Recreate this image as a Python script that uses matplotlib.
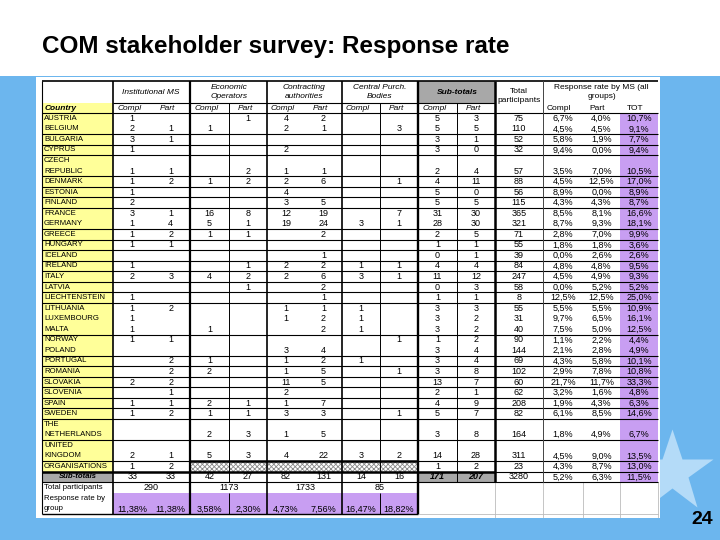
import matplotlib.pyplot as plt
from matplotlib.patches import Rectangle

# ---- data ----
N = None
countries = ["AUSTRIA", "BELGIUM", "BULGARIA", "CYPRUS", "CZECH\nREPUBLIC", "DENMARK",
             "ESTONIA", "FINLAND", "FRANCE", "GERMANY", "GREECE", "HUNGARY", "ICELAND",
             "IRELAND", "ITALY", "LATVIA", "LIECHTENSTEIN", "LITHUANIA", "LUXEMBOURG",
             "MALTA", "NORWAY", "POLAND", "PORTUGAL", "ROMANIA", "SLOVAKIA", "SLOVENIA",
             "SPAIN", "SWEDEN", "THE\nNETHERLANDS", "UNITED\nKINGDOM", "ORGANISATIONS"]
inst_compl = [1, 2, 3, 1, 1, 1, 1, 2, 3, 1, 1, 1, N, 1, 2, N, 1, 1, 1, 1, 1, N, N, N, 2, N, 1, 1, N, 2, 1]
inst_part = [N, 1, 1, N, 1, 2, N, N, 1, 4, 2, 1, N, N, 3, N, N, 2, N, N, 1, N, 2, 2, 2, 1, 1, 2, N, 1, 2]
econ_compl = [N, 1, N, N, N, 1, N, N, 16, 5, 1, N, N, N, 4, N, N, N, N, 1, N, N, 1, 2, N, N, 2, 1, 2, 5, N]
econ_part = [1, N, N, N, 2, 2, N, N, 8, 1, 1, N, N, 1, 2, 1, N, N, N, N, N, N, N, N, N, N, 1, 1, 3, 3, N]
contr_compl = [4, 2, N, 2, 1, 2, 4, 3, 12, 19, N, N, N, 2, 2, N, N, 1, 1, N, N, 3, 1, 1, 11, 2, 1, 3, 1, 4, N]
contr_part = [2, 1, N, N, 1, 6, N, 5, 19, 24, 2, N, 1, 2, 6, 2, 1, 1, 2, 2, N, 4, 2, 5, 5, N, 7, 3, 5, 22, N]
cent_compl = [N, N, N, N, N, N, N, N, N, 3, N, N, N, 1, 3, N, N, 1, 1, 1, N, N, 1, N, N, N, N, N, N, 3, N]
cent_part = [N, 3, N, N, N, 1, N, N, 7, 1, N, N, N, 1, 1, N, N, N, N, N, 1, N, N, 1, N, N, N, 1, N, 2, N]
sub_compl = [5, 5, 3, 3, 2, 4, 5, 5, 31, 28, 2, 1, 0, 4, 11, 0, 1, 3, 3, 3, 1, 3, 3, 3, 13, 2, 4, 5, 3, 14, 1]
sub_part = [3, 5, 1, 0, 4, 11, 0, 5, 30, 30, 5, 1, 1, 4, 12, 3, 1, 3, 2, 2, 2, 4, 4, 8, 7, 1, 9, 7, 8, 28, 2]
total = [75, 110, 52, 32, 57, 88, 56, 115, 365, 321, 71, 55, 39, 84, 247, 58, 8, 55, 31, 40, 90, 144,
         69, 102, 60, 62, 208, 82, 164, 311, 23]
rate_compl = [6.7, 4.5, 5.8, 9.4, 3.5, 4.5, 8.9, 4.3, 8.5, 8.7, 2.8, 1.8, 0.0, 4.8, 4.5, 0.0, 12.5, 5.5,
              9.7, 7.5, 1.1, 2.1, 4.3, 2.9, 21.7, 3.2, 1.9, 6.1, 1.8, 4.5, 4.3]
rate_part = [4.0, 4.5, 1.9, 0.0, 7.0, 12.5, 0.0, 4.3, 8.1, 9.3, 7.0, 1.8, 2.6, 4.8, 4.9, 5.2, 12.5, 5.5,
             6.5, 5.0, 2.2, 2.8, 5.8, 7.8, 11.7, 1.6, 4.3, 8.5, 4.9, 9.0, 8.7]
rate_tot = [10.7, 9.1, 7.7, 9.4, 10.5, 17.0, 8.9, 8.7, 16.6, 18.1, 9.9, 3.6, 2.6, 9.5, 9.3, 5.2, 25.0,
            10.9, 16.1, 12.5, 4.4, 4.9, 10.1, 10.8, 33.3, 4.8, 6.3, 14.6, 6.7, 13.5, 13.0]

# Sub-totals / totals
group_subtotals = [33, 33, 42, 27, 82, 131, 14, 16, 171, 207]
grand_total = 3280
grand_rates = [5.2, 6.3, 11.5]
group_participants = [290, 1173, 1733, 85]
group_rates = [11.38, 11.38, 3.58, 2.30, 4.73, 7.56, 16.47, 18.82]

FONT = "Liberation Sans"
BLUE = "#6cb6ee"
YELLOW = "#ffff99"
PURPLE = "#c89ef2"
GREY = "#a8a8a8"


def pct(v, d=1):
    return (f"{v:.{d}f}%").replace(".", ",")


def blank(v):
    return "" if v is None else str(v)


fig = plt.figure(figsize=(7.2, 5.4), dpi=100)
ax = fig.add_axes([0, 0, 1, 1])
ax.set_xlim(0, 720)
ax.set_ylim(540, 0)
ax.axis("off")

# slide background
ax.add_patch(Rectangle((0, 0), 720, 540, facecolor=BLUE, lw=0, zorder=0))
ax.add_patch(Rectangle((0, 0), 720, 76, facecolor="white", lw=0, zorder=0.5))
ax.plot(672, 472, marker="*", ms=62, color="#b4dbf8", mec="none", zorder=0.6)
ax.add_patch(Rectangle((36, 77), 624, 441, facecolor="white", lw=0, zorder=1))

ax.text(42, 46, "COM stakeholder survey: Response rate", fontsize=17.5, fontweight="bold",
        family=FONT, va="center", ha="left", zorder=5)
ax.text(713, 520, "24", fontsize=14, fontweight="bold", family=FONT, va="center", ha="right")

# column layout
edges = [42, 113, 151.5, 190, 229, 267, 305, 342, 380, 418, 457, 495, 543, 583, 620, 658]
centers = [(edges[i] + edges[i + 1]) / 2 for i in range(len(edges) - 1)]
top, head2, head3 = 81, 103, 113
unit = 10.55

# row geometry
row_top, row_h = [], []
y = head3
for c in countries:
    h = 2 if "\n" in c else 1
    row_top.append(y)
    row_h.append(h * unit)
    y += h * unit
org_bottom = y
sub_top = org_bottom
part_top = sub_top + unit
rate_top = part_top + unit
bottom = rate_top + 2 * unit

# fills
ax.add_patch(Rectangle((edges[0], head2), edges[1] - edges[0], org_bottom - head2, facecolor=YELLOW, lw=0, zorder=1.5))
ax.add_patch(Rectangle((edges[14], head3), edges[15] - edges[14], part_top - head3, facecolor=PURPLE, lw=0, zorder=1.5))
ax.add_patch(Rectangle((edges[9], top), edges[11] - edges[9], head2 - top, facecolor=GREY, lw=0, zorder=1.5))
ax.add_patch(Rectangle((edges[0], sub_top), edges[1] - edges[0], unit, facecolor=GREY, lw=0, zorder=1.5))
ax.add_patch(Rectangle((edges[9], sub_top), edges[11] - edges[9], unit, facecolor=GREY, lw=0, zorder=1.5))
ax.add_patch(Rectangle((edges[1], rate_top), edges[9] - edges[1], 2 * unit, facecolor=PURPLE, lw=0, zorder=1.5))
org_i = len(countries) - 1
plt.rcParams["hatch.linewidth"] = 0.6
ax.add_patch(Rectangle((edges[3], row_top[org_i]), edges[9] - edges[3], unit, facecolor="white",
                       hatch="xxxxxxx", edgecolor="#8a8a8a", lw=0, zorder=1.6))

# header text
hkw = dict(family=FONT, fontsize=6, ha="center", va="center", zorder=5)
ax.text(centers[1] + 19, 92, "Institutional MS", style="italic", **hkw)
ax.text(edges[4], 92, "Economic\nOperators", style="italic", linespacing=1.45, **hkw)
ax.text(edges[6] - 1, 92, "Contracting\nauthorities", style="italic", linespacing=1.45, **hkw)
ax.text(edges[8], 92, "Central Purch.\nBodies", style="italic", linespacing=1.45, **hkw)
ax.text(edges[10], 92, "Sub-totals", style="italic", fontweight="bold", **hkw)
ax.text(centers[11], 96, "Total\nparticipants", linespacing=1.3, **hkw)
ax.text(centers[13], 92, "Response rate by MS (all\ngroups)", linespacing=1.45, **hkw)
ax.text(edges[0] + 3, 108, "Country", style="italic", fontweight="bold", family=FONT, fontsize=6,
        ha="left", va="center", zorder=5)
for k in range(1, 11):
    ax.text(centers[k] - 3, 108, "Compl" if k % 2 == 1 else "Part", style="italic", **hkw)
for k, lab in zip([12, 13, 14], ["Compl", "Part", "TOT"]):
    ax.text(centers[k] - 4, 108, lab, **hkw)

# data rows
cols = [inst_compl, inst_part, econ_compl, econ_part, contr_compl, contr_part,
        cent_compl, cent_part, sub_compl, sub_part]
nkw = dict(family=FONT, fontsize=6.5, ha="center", va="center", zorder=5)
for i, c in enumerate(countries):
    ybot = row_top[i] + row_h[i] - unit / 2
    lines = c.split("\n")
    for j, ln in enumerate(lines):
        ax.text(edges[0] + 2, row_top[i] + unit / 2 + j * unit, ln, family=FONT, fontsize=5.6,
                ha="left", va="center", zorder=5)
    for k, col in enumerate(cols):
        ax.text(centers[k + 1], ybot, blank(col[i]), **nkw)
    ax.text(centers[11], ybot, str(total[i]), **nkw)
    ax.text(centers[12], ybot, pct(rate_compl[i]), **nkw)
    ax.text(centers[13], ybot, pct(rate_part[i]), **nkw)
    ax.text(centers[14], ybot, pct(rate_tot[i]), **nkw)

# sub-totals row
ys = sub_top + unit / 2
ax.text(centers[0], ys, "Sub-totals", style="italic", fontweight="bold", family=FONT, fontsize=5.6,
        ha="center", va="center", zorder=5)
for k, v in enumerate(group_subtotals):
    bold = k >= 8
    ax.text(centers[k + 1], ys, str(v), fontweight="bold" if bold else "normal",
            style="italic" if bold else "normal", **nkw)
ax.text(centers[11], ys, str(grand_total), **nkw)
for k, v in enumerate(grand_rates):
    ax.text(centers[12 + k], ys, pct(v), **nkw)

# totals and group rates
yp = part_top + unit / 2
ax.text(edges[0] + 2, yp, "Total participants", family=FONT, fontsize=5.6, ha="left", va="center", zorder=5)
for g, v in enumerate(group_participants):
    ax.text(edges[2 * g + 2], yp, str(v), **nkw)
ax.text(edges[0] + 2, rate_top + unit / 2, "Response rate by", family=FONT, fontsize=5.6, ha="left", va="center", zorder=5)
ax.text(edges[0] + 2, rate_top + 1.5 * unit, "group", family=FONT, fontsize=5.6, ha="left", va="center", zorder=5)
for k, v in enumerate(group_rates):
    ax.text(centers[k + 1], rate_top + 1.6 * unit, pct(v, 2), **nkw)

# grid lines
lkw = dict(color="black", zorder=4, solid_capstyle="butt")
no_line_after = {"AUSTRIA", "FRANCE", "LITHUANIA", "LUXEMBOURG", "NORWAY"}
ax.plot([edges[0], edges[-1]], [top, top], lw=1.2, **lkw)
ax.plot([edges[1], edges[11]], [head2, head2], lw=0.8, **lkw)
ax.plot([edges[0], edges[-1]], [head3, head3], lw=0.8, **lkw)
for i, c in enumerate(countries):
    yb = row_top[i] + row_h[i]
    if c in no_line_after:
        continue
    thick = c.startswith("UNITED") or c == "ORGANISATIONS"
    ax.plot([edges[0], edges[-1]], [yb, yb], lw=0.8, **lkw)
    if thick:
        ax.plot([edges[3] if c.startswith("UNITED") else edges[0], edges[9 if c.startswith("UNITED") else 11]],
                [yb, yb], lw=1.8, **lkw)
ax.plot([edges[0], edges[-1]], [part_top, part_top], lw=0.8, **lkw)
ax.plot([edges[0], edges[9]], [bottom, bottom], lw=1.0, **lkw)
ax.plot([edges[9], edges[-1]], [bottom, bottom], lw=0.6, color="#bbbbbb", zorder=3)

for k, lw in [(0, 0.8), (1, 1.2), (3, 1.6), (5, 1.2), (7, 1.2), (9, 1.7)]:
    ax.plot([edges[k], edges[k]], [top, bottom], lw=lw, **lkw)
for k in [4, 8, 10]:
    ax.plot([edges[k], edges[k]], [head2, part_top], lw=0.7, **lkw)
for k in [4, 8]:
    ax.plot([edges[k], edges[k]], [rate_top, bottom], lw=0.7, **lkw)
ax.plot([edges[11], edges[11]], [top, part_top], lw=1.8, **lkw)
ax.plot([edges[12], edges[12]], [top, part_top], lw=0.7, color="#444444", zorder=4)
for k in [11, 12, 13, 14, 15]:
    ax.plot([edges[k], edges[k]], [part_top, bottom + 3], lw=0.6, color="#bbbbbb", zorder=3)

fig.savefig("out.png", dpi=100)
